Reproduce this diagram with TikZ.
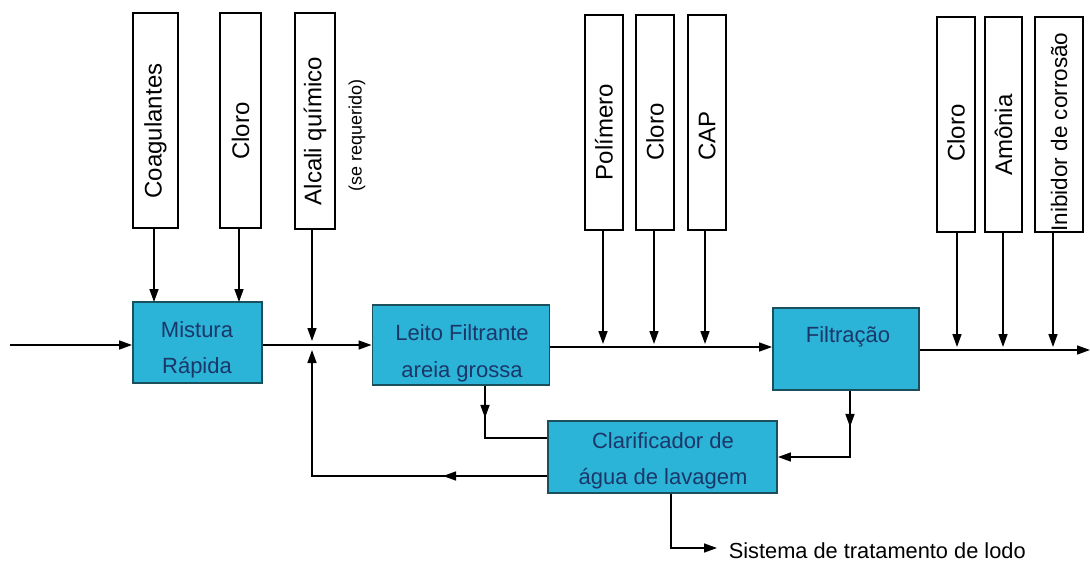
\documentclass[tikz,border=0pt]{standalone}
\usepackage{fontspec}
\setmainfont{Liberation Sans}
\usetikzlibrary{arrows.meta,decorations.markings,calc}
\definecolor{boxfill}{HTML}{2BB3D8}
\definecolor{boxedge}{HTML}{1C4F5C}
\definecolor{boxtext}{HTML}{1B3768}
\begin{document}
\begin{tikzpicture}[x=1pt,y=-1pt,
  >={Triangle[length=13pt,width=9pt]},
  line width=1.6pt,
  chem/.style={draw=black,line width=1.9pt,fill=white,inner sep=0pt},
  proc/.style={draw=boxedge,line width=1.9pt,fill=boxfill,inner sep=0pt},
  vlab/.style={rotate=90,inner sep=0pt,font=\fontsize{24}{24}\selectfont},
  ptext/.style={text=boxtext,inner sep=0pt,anchor=base,font=\fontsize{22}{22}\selectfont},
  flow/.style={->,line width=1.6pt},
  midarrow/.style={postaction={decorate},decoration={markings,mark=at position #1 with {\arrow{Triangle[length=13pt,width=9pt]}}}}
]
\useasboundingbox (0,0) rectangle (1090,562);

% chemical feed boxes
\node[chem,minimum width=45pt,minimum height=215pt] (coag) at (155.5,120.5) {};
\node[chem,minimum width=41pt,minimum height=215pt] (cl1) at (240.5,120.5) {};
\node[chem,minimum width=40pt,minimum height=216pt] (alc) at (315,121) {};
\node[chem,minimum width=38pt,minimum height=215pt] (pol) at (604,122.5) {};
\node[chem,minimum width=38pt,minimum height=215pt] (cl2) at (655,122.5) {};
\node[chem,minimum width=38pt,minimum height=215pt] (cap) at (707,122.5) {};
\node[chem,minimum width=38pt,minimum height=215pt] (cl3) at (956,124.5) {};
\node[chem,minimum width=37pt,minimum height=215pt] (amo) at (1003.5,124.5) {};
\node[chem,minimum width=48pt,minimum height=215pt] (inib) at (1059,124.5) {};

\node[vlab] (tcoag) at (155.5,131) {Coagulantes};
\node[vlab] (tcl1) at (240.5,131) {Cloro};
\node[vlab] (talc) at (315,131) {Alcali químico};
\node[rotate=90,inner sep=0pt,font=\fontsize{18}{18}\selectfont] (tse) at (357,135) {(se requerido)};
\node[vlab] (tpol) at (604,132) {Polímero};
\node[vlab] (tcl2) at (655,132) {Cloro};
\node[vlab] (tcap) at (707,136) {CAP};
\node[vlab] (tcl3) at (956,133) {Cloro};
\node[vlab] (tamo) at (1003.5,135) {Amônia};
\node[rotate=90,inner sep=0pt,font=\fontsize{22.5}{22.5}\selectfont] (tinib) at (1059,132) {Inibidor de corrosão};

% process boxes
\node[proc,minimum width=129pt,minimum height=81pt] (mist) at (197.5,342.5) {};
\node[proc,minimum width=177pt,minimum height=80pt] (leito) at (461,345) {};
\node[proc,minimum width=146pt,minimum height=82pt] (filt) at (846,349) {};
\node[proc,minimum width=229pt,minimum height=72pt] (clar) at (662.5,457) {};

\node[ptext] (tm1) at (197,337) {Mistura};
\node[ptext] (tm2) at (197,373) {Rápida};
\node[ptext] (tl1) at (462,340) {Leito Filtrante};
\node[ptext] (tl2) at (462,377) {areia grossa};
\node[ptext] (tf1) at (848,342) {Filtração};
\node[ptext] (tc1) at (663,448) {Clarificador de};
\node[ptext] (tc2) at (663,484) {água de lavagem};

% coordinates
\coordinate (in) at (10,345);
\coordinate (j1) at (312,345);
\coordinate (out) at (1090,350);
\coordinate (r1) at (312,476);
\coordinate (l1) at (485,438);
\coordinate (f1) at (850,457);
\coordinate (s1) at (671,548);
\coordinate (s2) at (717,548);

% main flow
\draw[flow] (in) -- (in -| mist.west);
\draw[flow] (mist.east |- j1) -- (j1 -| leito.west);
\draw[flow] (leito.east |- 0,347) -- (filt.west |- 0,347);
\draw[flow] (filt.east |- out) -- (out);

% chemical feeds
\draw[flow] (coag.south -| 154,0) -- (154,302);
\draw[flow] (cl1.south -| 239,0) -- (239,302);
\draw[flow] (alc.south -| 312,0) -- (312,341);
\draw[flow] (pol.south -| 603,0) -- (603,344);
\draw[flow] (cl2.south -| 654,0) -- (654,344);
\draw[flow] (cap.south -| 705,0) -- (705,344);
\draw[flow] (cl3.south -| 957,0) -- (957,347);
\draw[flow] (amo.south -| 1003,0) -- (1003,347);
\draw[flow] (inib.south -| 1053,0) -- (1053,347);

% recirculation / wash water
\draw[midarrow=32pt] (leito.south -| l1) -- (l1) -- (l1 -| clar.west);
\draw[flow,midarrow=36pt] (filt.south -| f1) -- (f1) -- (f1 -| clar.east);
\draw[flow,midarrow=104pt] (clar.west |- r1) -- (r1) -- (312,350);
\draw[flow] (clar.south -| s1) -- (s1) -- (s2);
\node[anchor=west,inner sep=0pt,font=\fontsize{21.8}{21.8}\selectfont] (lodo) at (728,551) {Sistema de tratamento de lodo};
\end{tikzpicture}
\end{document}
